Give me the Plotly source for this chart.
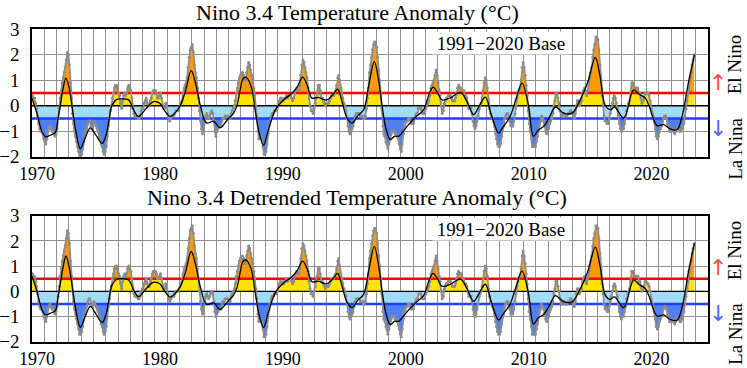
import plotly.graph_objects as go

# ---------------- data ----------------
FIRST_YEAR = 1970
X_RANGE = [1970, 2025]
Y_RANGE = [-2, 3]
EL_NINO = 0.5
LA_NINA = -0.5
decade_years = [1970, 1980, 1990, 2000, 2010, 2020]
y_ticks = [-2, -1, 0, 1, 2, 3]

titles = ["Nino 3.4 Temperature Anomaly (\u00b0C)",
          "Nino 3.4 Detrended Temperature Anomaly (\u00b0C)"]
base_label = "1991\u22122020 Base"

# monthly Nino 3.4 anomaly, one row per year from 1970 (Jan..Dec)
nino34_monthly = [
    [0.4, 0.3, 0.3, 0.1, -0.1, -0.4, -0.7, -0.9, -1.0, -1.0, -1.1, -1.3],
    [-1.4, -1.5, -1.3, -1.0, -0.9, -0.8, -0.9, -1.0, -1.0, -1.1, -1.2, -1.1],
    [-0.9, -0.5, -0.1, 0.3, 0.6, 0.9, 1.1, 1.3, 1.5, 1.8, 2.1, 2.0],
    [1.6, 0.9, 0.3, -0.3, -0.7, -1.0, -1.2, -1.4, -1.6, -1.8, -2.0, -2.0],
    [-1.9, -1.7, -1.4, -1.1, -1.0, -0.9, -0.7, -0.6, -0.6, -0.8, -0.9, -0.8],
    [-0.6, -0.7, -0.8, -0.9, -1.0, -1.2, -1.3, -1.5, -1.6, -1.8, -1.9, -1.8],
    [-1.6, -1.2, -0.8, -0.5, -0.2, 0.0, 0.3, 0.5, 0.7, 0.8, 0.8, 0.7],
    [0.5, 0.4, 0.1, -0.1, 0.2, 0.4, 0.5, 0.4, 0.5, 0.7, 0.8, 0.7],
    [0.6, 0.3, -0.1, -0.3, -0.4, -0.4, -0.4, -0.5, -0.5, -0.4, -0.2, -0.1],
    [-0.1, 0.1, 0.2, 0.3, 0.1, 0.0, 0.0, 0.2, 0.3, 0.5, 0.6, 0.6],
    [0.6, 0.5, 0.3, 0.3, 0.4, 0.5, 0.3, 0.0, -0.1, -0.1, 0.1, 0.0],
    [-0.3, -0.5, -0.6, -0.5, -0.4, -0.4, -0.4, -0.3, -0.2, -0.2, -0.2, -0.1],
    [0.0, 0.1, 0.2, 0.5, 0.7, 0.8, 0.9, 1.1, 1.5, 1.9, 2.2, 2.3],
    [2.4, 2.1, 1.6, 1.3, 1.1, 0.7, 0.3, -0.2, -0.6, -0.9, -1.1, -0.9],
    [-0.6, -0.4, -0.3, -0.4, -0.5, -0.4, -0.3, -0.2, -0.3, -0.6, -1.0, -1.2],
    [-1.0, -0.9, -0.8, -0.8, -0.8, -0.6, -0.5, -0.5, -0.4, -0.4, -0.4, -0.4],
    [-0.5, -0.5, -0.3, -0.2, -0.1, 0.0, 0.2, 0.5, 0.7, 0.9, 1.1, 1.2],
    [1.2, 1.3, 1.2, 1.0, 1.0, 1.3, 1.5, 1.7, 1.6, 1.4, 1.2, 1.0],
    [0.7, 0.4, 0.0, -0.4, -1.0, -1.3, -1.3, -1.2, -1.3, -1.6, -1.9, -1.9],
    [-1.8, -1.5, -1.1, -0.8, -0.6, -0.4, -0.3, -0.3, -0.2, -0.2, -0.2, -0.1],
    [0.1, 0.2, 0.3, 0.3, 0.2, 0.2, 0.3, 0.3, 0.4, 0.3, 0.4, 0.4],
    [0.4, 0.3, 0.2, 0.3, 0.5, 0.6, 0.7, 0.6, 0.6, 0.8, 1.2, 1.6],
    [1.8, 1.7, 1.5, 1.3, 1.1, 0.7, 0.3, 0.0, -0.2, -0.2, -0.3, -0.1],
    [0.1, 0.3, 0.5, 0.8, 0.8, 0.6, 0.3, 0.3, 0.2, 0.1, 0.0, 0.1],
    [0.1, 0.1, 0.2, 0.3, 0.4, 0.4, 0.4, 0.5, 0.6, 0.8, 1.1, 1.2],
    [1.0, 0.7, 0.5, 0.3, 0.1, 0.0, -0.2, -0.5, -0.8, -1.0, -1.1, -1.0],
    [-0.9, -0.8, -0.6, -0.4, -0.3, -0.3, -0.3, -0.3, -0.4, -0.4, -0.4, -0.5],
    [-0.5, -0.4, -0.1, 0.3, 0.7, 1.3, 1.6, 1.9, 2.2, 2.4, 2.5, 2.5],
    [2.3, 1.9, 1.4, 1.0, 0.5, -0.1, -0.8, -1.1, -1.2, -1.4, -1.5, -1.7],
    [-1.5, -1.3, -1.1, -1.0, -1.0, -1.0, -1.1, -1.1, -1.2, -1.3, -1.5, -1.7],
    [-1.8, -1.5, -1.1, -0.8, -0.7, -0.6, -0.6, -0.5, -0.5, -0.6, -0.7, -0.7],
    [-0.7, -0.5, -0.4, -0.3, -0.3, -0.1, -0.1, -0.1, -0.2, -0.3, -0.3, -0.3],
    [-0.1, 0.0, 0.1, 0.2, 0.4, 0.7, 0.8, 0.9, 1.0, 1.2, 1.4, 1.2],
    [0.9, 0.6, 0.4, 0.0, -0.3, -0.2, 0.1, 0.2, 0.3, 0.3, 0.4, 0.4],
    [0.4, 0.3, 0.2, 0.2, 0.2, 0.3, 0.5, 0.7, 0.8, 0.7, 0.7, 0.7],
    [0.6, 0.6, 0.4, 0.4, 0.3, 0.1, -0.1, -0.1, -0.1, -0.3, -0.6, -0.8],
    [-0.9, -0.8, -0.6, -0.4, -0.1, 0.0, 0.1, 0.3, 0.6, 0.9, 1.1, 1.0],
    [0.7, 0.2, -0.1, -0.3, -0.4, -0.5, -0.6, -0.8, -1.1, -1.3, -1.5, -1.6],
    [-1.6, -1.5, -1.2, -0.9, -0.8, -0.5, -0.4, -0.3, -0.3, -0.4, -0.6, -0.8],
    [-0.8, -0.8, -0.6, -0.3, 0.0, 0.3, 0.5, 0.6, 0.7, 1.0, 1.5, 1.7],
    [1.5, 1.2, 0.8, 0.4, -0.2, -0.7, -1.0, -1.3, -1.6, -1.6, -1.6, -1.6],
    [-1.4, -1.2, -0.9, -0.7, -0.6, -0.4, -0.5, -0.6, -0.8, -1.0, -1.1, -1.0],
    [-0.9, -0.7, -0.6, -0.5, -0.3, 0.0, 0.2, 0.5, 0.5, 0.3, 0.1, -0.2],
    [-0.4, -0.4, -0.3, -0.3, -0.4, -0.4, -0.4, -0.3, -0.3, -0.2, -0.2, -0.3],
    [-0.4, -0.5, -0.3, 0.0, 0.2, 0.2, 0.0, 0.1, 0.2, 0.5, 0.6, 0.7],
    [0.5, 0.4, 0.6, 0.9, 1.1, 1.3, 1.5, 1.9, 2.2, 2.4, 2.7, 2.6],
    [2.6, 2.2, 1.6, 1.0, 0.4, 0.0, -0.4, -0.6, -0.6, -0.7, -0.7, -0.5],
    [-0.3, -0.1, 0.1, 0.3, 0.4, 0.3, 0.1, -0.1, -0.4, -0.7, -0.9, -1.0],
    [-0.9, -0.9, -0.7, -0.5, -0.2, 0.0, 0.1, 0.2, 0.5, 0.9, 0.9, 0.8],
    [0.7, 0.7, 0.7, 0.7, 0.5, 0.5, 0.3, 0.1, 0.2, 0.3, 0.5, 0.5],
    [0.5, 0.5, 0.4, 0.2, -0.1, -0.3, -0.4, -0.6, -0.9, -1.2, -1.3, -1.2],
    [-1.0, -0.9, -0.8, -0.7, -0.5, -0.4, -0.4, -0.5, -0.7, -0.8, -1.0, -1.0],
    [-1.0, -0.9, -1.0, -1.1, -1.0, -0.9, -0.8, -0.9, -1.0, -1.0, -0.9, -0.8],
    [-0.7, -0.4, -0.1, 0.2, 0.5, 0.9, 1.1, 1.3, 1.6, 1.8, 2.0],
]

# monthly detrended Nino 3.4 anomaly, one row per year from 1970
nino34_detrended_monthly = [
    [0.7, 0.6, 0.6, 0.4, 0.2, -0.1, -0.4, -0.6, -0.7, -0.7, -0.8, -1.0],
    [-1.1, -1.2, -1.0, -0.7, -0.6, -0.5, -0.6, -0.7, -0.7, -0.8, -0.9, -0.8],
    [-0.6, -0.2, 0.2, 0.6, 0.9, 1.2, 1.4, 1.6, 1.8, 2.1, 2.4, 2.3],
    [1.9, 1.2, 0.6, 0.0, -0.4, -0.7, -0.9, -1.1, -1.3, -1.5, -1.7, -1.7],
    [-1.6, -1.4, -1.1, -0.8, -0.7, -0.6, -0.4, -0.3, -0.3, -0.5, -0.6, -0.5],
    [-0.4, -0.5, -0.6, -0.7, -0.8, -1.0, -1.1, -1.3, -1.4, -1.6, -1.7, -1.6],
    [-1.4, -1.0, -0.6, -0.3, 0.0, 0.2, 0.5, 0.7, 0.9, 1.0, 1.0, 0.9],
    [0.7, 0.6, 0.3, 0.1, 0.4, 0.6, 0.7, 0.6, 0.7, 0.9, 1.0, 0.9],
    [0.8, 0.5, 0.1, -0.1, -0.2, -0.2, -0.2, -0.3, -0.3, -0.2, 0.0, 0.1],
    [0.1, 0.3, 0.4, 0.5, 0.3, 0.2, 0.2, 0.4, 0.5, 0.7, 0.8, 0.8],
    [0.8, 0.7, 0.5, 0.5, 0.6, 0.7, 0.5, 0.2, 0.1, 0.1, 0.3, 0.2],
    [-0.1, -0.3, -0.4, -0.3, -0.2, -0.2, -0.2, -0.1, 0.0, 0.0, 0.0, 0.1],
    [0.2, 0.3, 0.4, 0.7, 0.9, 1.0, 1.1, 1.3, 1.7, 2.1, 2.4, 2.5],
    [2.6, 2.3, 1.8, 1.5, 1.3, 0.9, 0.5, 0.0, -0.4, -0.7, -0.9, -0.7],
    [-0.4, -0.2, -0.1, -0.2, -0.3, -0.2, -0.1, 0.0, -0.1, -0.4, -0.8, -1.0],
    [-0.9, -0.8, -0.7, -0.7, -0.7, -0.5, -0.4, -0.4, -0.3, -0.3, -0.3, -0.3],
    [-0.4, -0.4, -0.2, -0.1, 0.0, 0.1, 0.3, 0.6, 0.8, 1.0, 1.2, 1.3],
    [1.3, 1.4, 1.3, 1.1, 1.1, 1.4, 1.6, 1.8, 1.7, 1.5, 1.3, 1.1],
    [0.8, 0.5, 0.1, -0.3, -0.9, -1.2, -1.2, -1.1, -1.2, -1.5, -1.8, -1.8],
    [-1.7, -1.4, -1.0, -0.7, -0.5, -0.3, -0.2, -0.2, -0.1, -0.1, -0.1, 0.0],
    [0.2, 0.3, 0.4, 0.4, 0.3, 0.3, 0.4, 0.4, 0.5, 0.4, 0.5, 0.5],
    [0.5, 0.4, 0.3, 0.4, 0.6, 0.7, 0.8, 0.7, 0.7, 0.9, 1.3, 1.7],
    [1.9, 1.8, 1.6, 1.4, 1.2, 0.8, 0.4, 0.1, -0.1, -0.1, -0.2, 0.0],
    [0.2, 0.4, 0.6, 0.9, 0.9, 0.7, 0.4, 0.4, 0.3, 0.2, 0.1, 0.2],
    [0.2, 0.2, 0.3, 0.4, 0.5, 0.5, 0.5, 0.6, 0.7, 0.9, 1.2, 1.3],
    [1.0, 0.7, 0.5, 0.3, 0.1, 0.0, -0.2, -0.5, -0.8, -1.0, -1.1, -1.0],
    [-0.9, -0.8, -0.6, -0.4, -0.3, -0.3, -0.3, -0.3, -0.4, -0.4, -0.4, -0.5],
    [-0.5, -0.4, -0.1, 0.3, 0.7, 1.3, 1.6, 1.9, 2.2, 2.4, 2.5, 2.5],
    [2.3, 1.9, 1.4, 1.0, 0.5, -0.1, -0.8, -1.1, -1.2, -1.4, -1.5, -1.7],
    [-1.5, -1.3, -1.1, -1.0, -1.0, -1.0, -1.1, -1.1, -1.2, -1.3, -1.5, -1.7],
    [-1.8, -1.5, -1.1, -0.8, -0.7, -0.6, -0.6, -0.5, -0.5, -0.6, -0.7, -0.7],
    [-0.7, -0.5, -0.4, -0.3, -0.3, -0.1, -0.1, -0.1, -0.2, -0.3, -0.3, -0.3],
    [-0.1, 0.0, 0.1, 0.2, 0.4, 0.7, 0.8, 0.9, 1.0, 1.2, 1.4, 1.2],
    [0.9, 0.6, 0.4, 0.0, -0.3, -0.2, 0.1, 0.2, 0.3, 0.3, 0.4, 0.4],
    [0.4, 0.3, 0.2, 0.2, 0.2, 0.3, 0.5, 0.7, 0.8, 0.7, 0.7, 0.7],
    [0.5, 0.5, 0.3, 0.3, 0.2, 0.0, -0.2, -0.2, -0.2, -0.4, -0.7, -0.9],
    [-1.0, -0.9, -0.7, -0.5, -0.2, -0.1, 0.0, 0.2, 0.5, 0.8, 1.0, 0.9],
    [0.6, 0.1, -0.2, -0.4, -0.5, -0.6, -0.7, -0.9, -1.2, -1.4, -1.6, -1.7],
    [-1.7, -1.6, -1.3, -1.0, -0.9, -0.6, -0.5, -0.4, -0.4, -0.5, -0.7, -0.9],
    [-0.9, -0.9, -0.7, -0.4, -0.1, 0.2, 0.4, 0.5, 0.6, 0.9, 1.4, 1.6],
    [1.4, 1.1, 0.7, 0.3, -0.3, -0.8, -1.1, -1.4, -1.7, -1.7, -1.7, -1.7],
    [-1.5, -1.3, -1.0, -0.8, -0.7, -0.5, -0.6, -0.7, -0.9, -1.1, -1.2, -1.1],
    [-1.0, -0.8, -0.7, -0.6, -0.4, -0.1, 0.1, 0.4, 0.4, 0.2, 0.0, -0.3],
    [-0.5, -0.5, -0.4, -0.4, -0.5, -0.5, -0.5, -0.4, -0.4, -0.3, -0.3, -0.4],
    [-0.5, -0.6, -0.4, -0.1, 0.1, 0.1, -0.1, 0.0, 0.1, 0.4, 0.5, 0.6],
    [0.4, 0.3, 0.5, 0.8, 1.0, 1.2, 1.4, 1.8, 2.1, 2.3, 2.6, 2.5],
    [2.5, 2.1, 1.5, 0.9, 0.3, -0.1, -0.5, -0.7, -0.7, -0.8, -0.8, -0.6],
    [-0.4, -0.2, 0.0, 0.2, 0.3, 0.2, 0.0, -0.2, -0.5, -0.8, -1.0, -1.1],
    [-1.0, -1.0, -0.8, -0.6, -0.3, -0.1, 0.0, 0.1, 0.4, 0.8, 0.8, 0.7],
    [0.6, 0.6, 0.6, 0.6, 0.4, 0.4, 0.2, 0.0, 0.1, 0.2, 0.4, 0.4],
    [0.3, 0.3, 0.2, 0.0, -0.3, -0.5, -0.6, -0.8, -1.1, -1.4, -1.5, -1.4],
    [-1.2, -1.1, -1.0, -0.9, -0.7, -0.6, -0.6, -0.7, -0.9, -1.0, -1.2, -1.2],
    [-1.2, -1.1, -1.2, -1.3, -1.2, -1.1, -1.0, -1.1, -1.2, -1.2, -1.1, -1.0],
    [-0.8, -0.5, -0.2, 0.1, 0.4, 0.8, 1.0, 1.2, 1.5, 1.7, 1.9],
]

# smoothed curve (black line), read at its turning points
smooth_t = [
    1970.0, 1970.4, 1970.8, 1971.1, 1971.5, 1971.9, 1972.1, 1972.3, 1972.5, 1972.76,
    1973.0, 1973.25, 1973.55, 1973.93, 1974.3, 1974.74, 1975.2, 1975.7, 1976.0, 1976.25,
    1976.5, 1976.9, 1977.3, 1977.86, 1978.3, 1978.67, 1979.3, 1979.9, 1980.4, 1980.8,
    1981.25, 1981.6, 1982.06, 1982.5, 1982.95, 1983.3, 1983.7, 1984.2, 1984.77, 1985.3,
    1985.9, 1986.4, 1986.67, 1986.95, 1987.15, 1987.4, 1987.8, 1988.2, 1988.5, 1988.84,
    1989.2, 1989.8, 1990.47, 1991.15, 1991.6, 1992.02, 1992.4, 1992.78, 1993.3, 1993.7,
    1994.0, 1994.5, 1994.87, 1995.2, 1995.63, 1996.04, 1996.5, 1996.98, 1997.4, 1997.85,
    1998.2, 1998.48, 1998.8, 1999.15, 1999.5, 1999.83, 2000.2, 2000.51, 2001.2, 2001.86,
    2002.3, 2002.63, 2002.95, 2003.36, 2004.0, 2004.85, 2005.4, 2005.93, 2006.4, 2006.88,
    2007.4, 2007.97, 2008.3, 2008.9, 2009.4, 2009.87, 2010.4, 2010.8, 2011.2, 2011.63,
    2012.1, 2012.58, 2013.25, 2013.94, 2014.6, 2015.2, 2015.83, 2016.2, 2016.65, 2017.05,
    2017.4, 2018.14, 2018.95, 2019.4, 2019.9, 2020.2, 2020.86, 2021.4, 2021.9, 2022.48,
    2022.89, 2023.4, 2023.9,
]
smooth_anomaly = [
    0.30, -0.30, -1.00, -1.22, -1.15, -1.05, -0.55, 0.00, 0.60, 1.08,
    0.75, 0.00, -0.95, -1.69, -1.30, -0.87, -1.15, -1.48, -1.20, -0.60,
    0.00, 0.25, 0.27, 0.23, -0.20, -0.42, -0.10, 0.16, 0.10, -0.20,
    -0.42, -0.30, 0.00, 0.60, 1.38, 0.90, 0.00, -0.68, -0.61, -0.87,
    -0.55, -0.29, 0.00, 0.65, 1.05, 1.12, 0.80, -0.30, -1.10, -1.55,
    -1.00, -0.16, 0.23, 0.49, 0.75, 1.12, 0.80, 0.30, 0.33, 0.25,
    0.23, 0.45, 0.65, 0.20, -0.48, -0.68, -0.40, -0.16, 0.80, 1.73,
    1.00, 0.00, -0.90, -1.33, -1.20, -1.20, -1.00, -0.81, -0.45, -0.16,
    0.45, 0.73, 0.55, 0.23, 0.30, 0.52, 0.15, -0.35, 0.00, 0.34,
    -0.40, -1.07, -0.85, -0.42, 0.30, 0.89, 0.00, -1.20, -0.95, -0.81,
    -0.45, -0.05, -0.29, -0.29, 0.23, 0.90, 1.90, 1.20, 0.00, -0.16,
    -0.05, -0.48, 0.62, 0.45, 0.30, 0.00, -0.78, -0.74, -0.90, -0.94,
    -0.42, 0.89, 2.00,
]
smooth_detrended = [
    0.60, 0.00, -0.71, -0.93, -0.87, -0.77, -0.27, 0.28, 0.88, 1.40,
    1.02, 0.27, -0.69, -1.43, -1.04, -0.60, -0.90, -1.24, -0.96, -0.36,
    0.24, 0.48, 0.50, 0.45, 0.02, -0.21, 0.11, 0.36, 0.30, 0.00,
    -0.23, -0.11, 0.18, 0.78, 1.58, 1.07, 0.17, -0.52, -0.46, -0.72,
    -0.41, -0.15, 0.14, 0.78, 1.18, 1.25, 0.93, -0.18, -0.98, -1.44,
    -0.89, -0.05, 0.33, 0.58, 0.84, 1.20, 0.88, 0.38, 0.40, 0.32,
    0.30, 0.51, 0.71, 0.25, -0.43, -0.64, -0.36, -0.12, 0.83, 1.78,
    1.02, 0.02, -0.88, -1.32, -1.19, -1.19, -1.00, -0.81, -0.46, -0.17,
    0.43, 0.71, 0.53, 0.20, 0.27, 0.48, 0.10, -0.40, -0.06, 0.28,
    -0.47, -1.14, -0.93, -0.50, 0.21, 0.80, -0.10, -1.30, -1.05, -0.92,
    -0.56, -0.17, -0.41, -0.42, 0.09, 0.76, 1.75, 1.05, -0.16, -0.32,
    -0.22, -0.65, 0.44, 0.27, 0.11, -0.19, -0.98, -0.94, -1.11, -1.15,
    -0.64, 0.75, 1.90,
]

# ---------------- styling ----------------
FONT = '"Liberation Serif", "Times New Roman", serif'
ARROW_FONT = '"DejaVu Sans", sans-serif'
ORANGE = "#ff9a00"
YELLOW = "#ffe400"
LIGHTBLUE = "#a0dcf8"
BLUE = "#4f80f0"
GRAY = "#8c8c8c"
GRID = "#8f8f8f"


def monthly_series(rows):
    t, v = [], []
    for i, row in enumerate(rows):
        for m, val in enumerate(row):
            t.append(FIRST_YEAR + i + (m + 0.5) / 12.0)
            v.append(val)
    return t, v


fig = go.Figure()
panels = [
    (nino34_monthly, smooth_anomaly, "x", "y"),
    (nino34_detrended_monthly, smooth_detrended, "x2", "y2"),
]

for rows, smooth_v, xa, ya in panels:
    t, v = monthly_series(rows)
    pos = [max(a, 0.0) for a in v]
    pos_low = [min(max(a, 0.0), EL_NINO) for a in v]
    neg = [min(a, 0.0) for a in v]
    neg_low = [max(min(a, 0.0), LA_NINA) for a in v]
    for yy, col in [(pos, ORANGE), (pos_low, YELLOW), (neg, BLUE), (neg_low, LIGHTBLUE)]:
        fig.add_trace(go.Scatter(x=t, y=yy, mode="lines", fill="tozeroy",
                                 fillcolor=col, line=dict(width=0, color=col),
                                 xaxis=xa, yaxis=ya, hoverinfo="skip"))
    for level, col, w in [(0, "black", 1.3), (EL_NINO, "#ff0000", 2.5), (LA_NINA, "#1f3fff", 2.5)]:
        fig.add_trace(go.Scatter(x=X_RANGE, y=[level, level], mode="lines",
                                 line=dict(color=col, width=w),
                                 xaxis=xa, yaxis=ya, hoverinfo="skip"))
    fig.add_trace(go.Scatter(x=t, y=v, mode="lines+markers",
                             line=dict(color=GRAY, width=1.8),
                             marker=dict(color=GRAY, size=3),
                             xaxis=xa, yaxis=ya))
    fig.add_trace(go.Scatter(x=smooth_t, y=smooth_v, mode="lines",
                             line=dict(color="black", width=1.3, shape="spline", smoothing=1.0),
                             xaxis=xa, yaxis=ya))

x_tickvals = list(range(X_RANGE[0], X_RANGE[1] + 1))
x_ticktext = [str(yv) if yv in decade_years else "" for yv in x_tickvals]

xaxis_common = dict(range=X_RANGE, tickmode="array", tickvals=x_tickvals, ticktext=x_ticktext,
                    showgrid=True, gridcolor=GRID, gridwidth=1, ticks="",
                    showline=True, linecolor="black", linewidth=1.5, mirror=True,
                    zeroline=False, ticklabelshift=5, ticklabelstandoff=0,
                    automargin=False,
                    tickfont=dict(family=FONT, size=18, color="black"))
yaxis_common = dict(range=Y_RANGE, tickmode="array", tickvals=y_ticks,
                    ticktext=[("\u2212" + str(-k)) if k < 0 else str(k) for k in y_ticks],
                    showgrid=True, gridcolor=GRID, gridwidth=1, ticks="",
                    showline=True, linecolor="black", linewidth=1.5, mirror=True,
                    zeroline=False, ticklabelstandoff=7, automargin=False,
                    tickfont=dict(family=FONT, size=19, color="black"))

H = 368.0
top_dom = [1 - 156.7 / H, 1 - 29.3 / H]
bot_dom = [1 - 341.7 / H, 1 - 215.7 / H]

fig.update_layout(
    width=747, height=368, autosize=False,
    margin=dict(l=32, r=39, t=0, b=0, pad=0),
    paper_bgcolor="white", plot_bgcolor="white",
    showlegend=False,
    xaxis=dict(domain=[0, 1], anchor="y", **xaxis_common),
    xaxis2=dict(domain=[0, 1], anchor="y2", **xaxis_common),
    yaxis=dict(domain=top_dom, anchor="x", **yaxis_common),
    yaxis2=dict(domain=bot_dom, anchor="x2", **yaxis_common),
)

annotations = []
title_y = [1 - 12 / H, 1 - 197 / H]
for title, ty in zip(titles, title_y):
    annotations.append(dict(text=title, xref="paper", yref="paper", x=0.481, y=ty,
                            xanchor="center", yanchor="middle", showarrow=False,
                            font=dict(family=FONT, size=22, color="black")))
for xa, ya in [("x", "y"), ("x2", "y2")]:
    annotations.append(dict(text=base_label, xref=xa + " domain", yref=ya + " domain",
                            x=0.694, y=0.988, xanchor="center", yanchor="top",
                            showarrow=False, bgcolor="white", borderpad=0,
                            width=136, height=22,
                            font=dict(family=FONT, size=19, color="black")))
    annotations.append(dict(text="El Nino", xref=xa + " domain", yref=ya, x=1.0404, y=1.64,
                            textangle=-90, showarrow=False, xanchor="center", yanchor="middle",
                            font=dict(family=FONT, size=19, color="black")))
    annotations.append(dict(text="La Nina", xref=xa + " domain", yref=ya, x=1.0404, y=-1.68,
                            textangle=-90, showarrow=False, xanchor="center", yanchor="middle",
                            font=dict(family=FONT, size=19, color="black")))
    annotations.append(dict(text="\u2191", xref=xa + " domain", yref=ya, x=1.0152, y=0.93,
                            showarrow=False, xanchor="center", yanchor="middle",
                            font=dict(family=ARROW_FONT, size=22, color="#ff4a4a")))
    annotations.append(dict(text="\u2193", xref=xa + " domain", yref=ya, x=1.0152, y=-0.88,
                            showarrow=False, xanchor="center", yanchor="middle",
                            font=dict(family=ARROW_FONT, size=22, color="#4a6aff")))
fig.update_layout(annotations=annotations)

fig.write_html("out.html",
               config={"displayModeBar": False},
               post_script="document.body.style.margin='0px';document.body.style.padding='0px';")
